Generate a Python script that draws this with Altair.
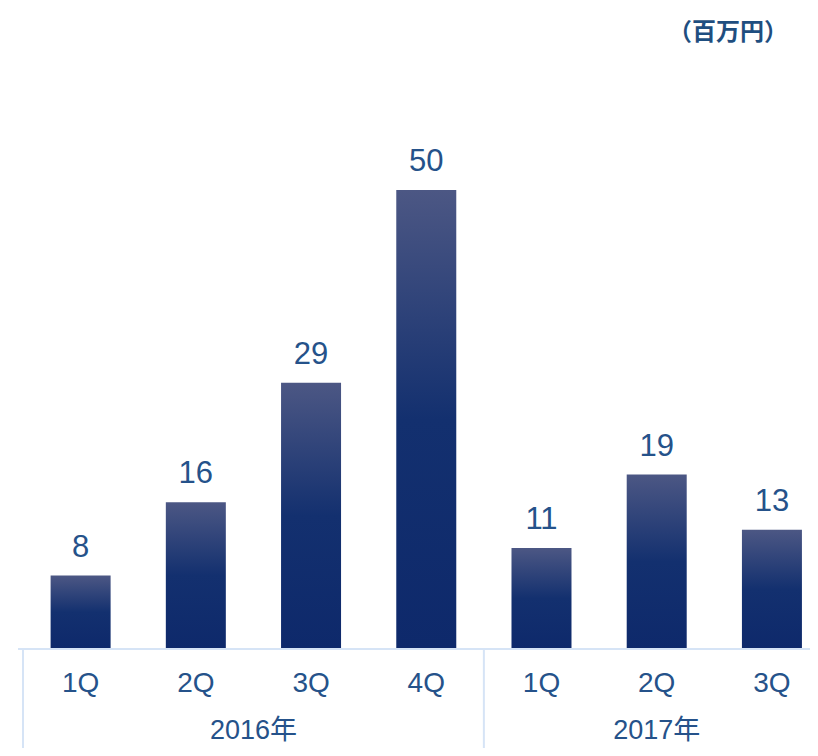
import altair as alt
import pandas as pd

quarters = ["1Q", "2Q", "3Q", "4Q", "1Q", "2Q", "3Q"]
years = ["2016年", "2016年", "2016年", "2016年", "2017年", "2017年", "2017年"]
values = [8, 16, 29, 50, 11, 19, 13]
year_labels = ["2016年", "2017年"]
unit_label = "（百万円）"

df = pd.DataFrame({
    "idx": list(range(len(values))),
    "quarter": quarters,
    "year": years,
    "value": values,
})
year_df = df.groupby("year", as_index=False)["idx"].mean()
year_df = year_df[year_df["year"].isin(year_labels)]
bound_df = df.groupby("year", as_index=False)["idx"].min()
bound_df["edge"] = bound_df["idx"] - 0.5

FONT = "Liberation Sans, Noto Sans CJK JP"
TXT = "#25528a"
LINE = "#d6e4f6"

W, H = 792, 740
xs = alt.Scale(domain=[-0.5, 6.287], nice=False, zero=False)
ys = alt.Scale(domain=[-10.78, 69.83], nice=False, zero=False)

X = alt.X("idx:Q", scale=xs, axis=None)

grad = alt.Gradient(
    gradient="linear",
    stops=[
        alt.GradientStop(offset=0, color="#4c5784"),
        alt.GradientStop(offset=0.5, color="#13306f"),
        alt.GradientStop(offset=1, color="#0e296b"),
    ],
    x1=0, x2=0, y1=0, y2=1,
)

base = alt.Chart(df)

bars = base.mark_bar(size=60, color=grad).encode(
    x=X,
    y=alt.Y("value:Q", scale=ys, axis=None),
    y2=alt.datum(0),
)

vals = base.mark_text(font=FONT, fontSize=31, color=TXT, dy=-19, baseline="alphabetic").encode(
    x=X,
    y=alt.Y("value:Q", scale=ys, axis=None),
    text="value:Q",
)

qlab = base.mark_text(font=FONT, fontSize=28, color=TXT, baseline="alphabetic").encode(
    x=X,
    y=alt.value(684),
    text="quarter:N",
)

ylab = alt.Chart(year_df).mark_text(font=FONT, fontSize=27, color=TXT, baseline="alphabetic").encode(
    x=X,
    y=alt.value(731),
    text="year:N",
)

hline = alt.Chart(pd.DataFrame({"y": [0]})).mark_rule(color=LINE, strokeWidth=2).encode(
    y=alt.Y("y:Q", scale=ys, axis=None),
    x=alt.value(0),
    x2=alt.value(W),
)

vlines = alt.Chart(bound_df).mark_rule(color=LINE, strokeWidth=2).encode(
    x=alt.X("edge:Q", scale=xs, axis=None),
    y=alt.Y("zero:Q", scale=ys, axis=None),
    y2=alt.value(H + 10),
).transform_calculate(zero="0")

unit = alt.Chart(pd.DataFrame({"t": [unit_label]})).mark_text(
    font="Noto Sans CJK JP", fontSize=24, fontWeight="bold", color="#1f4e80",
    align="right", baseline="middle",
).encode(
    x=alt.value(770),
    y=alt.value(25),
    text="t:N",
)

chart = alt.layer(bars, vals, hline, vlines, qlab, ylab, unit).properties(
    width=W,
    height=H,
    padding={"left": 10, "top": 0, "right": 0, "bottom": 0},
    autosize=alt.AutoSizeParams(type="none"),
).configure_view(stroke=None)

chart.save("out.html", embed_options={"renderer": "svg", "actions": False})
